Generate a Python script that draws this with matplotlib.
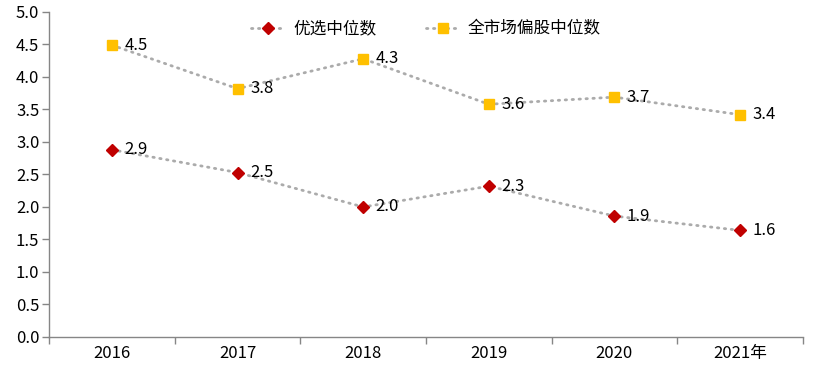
import matplotlib
matplotlib.use('Agg')
import matplotlib.pyplot as plt
import numpy as np

plt.rcParams['font.family'] = ['Noto Sans CJK SC', 'DejaVu Sans']

years = ['2016', '2017', '2018', '2019', '2020', '2021年']
youxuan = [2.88, 2.53, 2.00, 2.32, 1.86, 1.64]
quanshichang = [4.49, 3.82, 4.28, 3.58, 3.69, 3.42]
series_names = ['优选中位数', '全市场偏股中位数']

fig = plt.figure(figsize=(8.32, 3.74), dpi=100)
ax = fig.add_axes([0.059, 0.099, 0.906, 0.869])

x = np.arange(len(years))
line_kw = dict(color='#ABABAB', linestyle=(0, (0.5, 2.0)), linewidth=2.0,
               dash_capstyle='round')

ax.plot(x, youxuan, marker='D', markersize=6, markerfacecolor='#C00000',
        markeredgecolor='#C00000', label=series_names[0], **line_kw)
ax.plot(x, quanshichang, marker='s', markersize=7, markerfacecolor='#FFC000',
        markeredgecolor='#FFC000', label=series_names[1], **line_kw)

for vals in (youxuan, quanshichang):
    for xi, v in zip(x, vals):
        ax.annotate('%.1f' % v, (xi, v), xytext=(9, 0), textcoords='offset points',
                    va='center', ha='left', fontsize=12, color='black')

ax.set_xlim(-0.5, len(years) - 0.5)
ax.set_ylim(0, 5)
ax.set_yticks(np.arange(0, 5.01, 0.5))
ax.set_yticklabels(['%.1f' % t for t in np.arange(0, 5.01, 0.5)])
ax.set_xticks(x)
ax.set_xticklabels(years)
ax.set_xticks(np.arange(-0.5, len(years), 1), minor=True)
ax.tick_params(axis='x', which='major', length=0, pad=6, labelsize=12)
ax.tick_params(axis='x', which='minor', length=5, color='#868686', width=1)
ax.tick_params(axis='y', length=5, color='#868686', width=1, labelsize=12, pad=2)

for s in ('top', 'right'):
    ax.spines[s].set_visible(False)
for s in ('left', 'bottom'):
    ax.spines[s].set_color('#868686')
    ax.spines[s].set_linewidth(1)

ax.legend(loc='upper center', bbox_to_anchor=(0.5, 1.02), ncol=2, frameon=False,
          fontsize=12, handlelength=2.0, columnspacing=3.0, handletextpad=0.5)

fig.savefig('out.png', dpi=100)
